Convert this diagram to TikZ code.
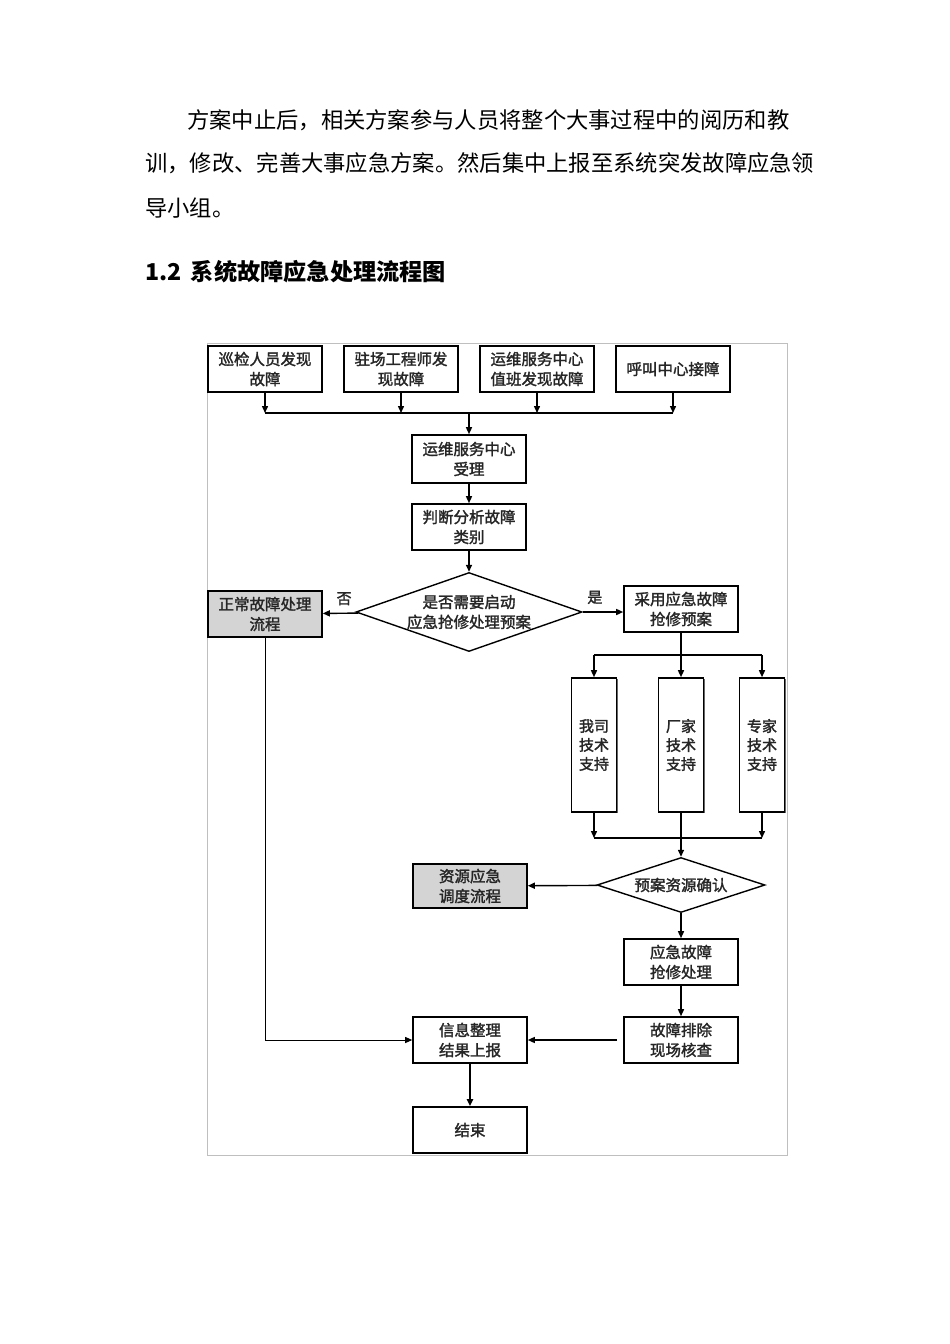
\documentclass[tikz,border=0pt]{standalone}
\usepackage{fontspec}
\setmainfont{Noto Sans CJK SC}
\newfontfamily\boxfont[FakeBold=1.8]{Noto Sans CJK SC}
\usetikzlibrary{arrows.meta,shapes.geometric,shadows}

\begin{document}
\begin{tikzpicture}[x=1pt,y=-1pt,
    box/.style={draw,line width=1.6pt,fill=white,minimum width=114pt,minimum height=46pt,
      align=center,inner sep=1pt,text=black!85,
      font=\boxfont\fontsize{15.5}{20}\selectfont,
      drop shadow={shadow xshift=1.2pt,shadow yshift=-1.2pt,fill=black!60,opacity=1}},
    graybox/.style={box,fill=black!17},
    tallbox/.style={box,minimum width=45pt,minimum height=134pt,font=\boxfont\fontsize{15}{19}\selectfont},
    decide/.style={draw,diamond,line width=1.4pt,fill=white,inner sep=0pt,align=center,
      text=black!85,font=\boxfont\fontsize{15.5}{20}\selectfont},
    flow/.style={line width=1.4pt,-{Triangle[length=7pt,width=6pt]}},
    link/.style={line width=1.4pt},
    tag/.style={font=\boxfont\fontsize{15}{18}\selectfont,text=black!85}]
  \useasboundingbox (0,0) rectangle (950,1344);
  % text above the chart
  \node[anchor=west,inner sep=0pt,font=\fontsize{22.3}{26}\selectfont] (para1) at (187,120)
    {方案中止后，相关方案参与人员将整个大事过程中的阅历和教};
  \node[anchor=west,inner sep=0pt,font=\fontsize{22.3}{26}\selectfont] (para2) at (145,163)
    {训，修改、完善大事应急方案。然后集中上报至系统突发故障应急领};
  \node[anchor=west,inner sep=0pt,font=\fontsize{22.3}{26}\selectfont] (para3) at (145,208)
    {导小组。};
  \node[anchor=west,inner sep=0pt,font=\bfseries\fontsize{23.2}{28}\selectfont] (title) at (145,272)
    {1.2\hspace{4pt} 系统故障应急处理流程图};
  % frame of the chart
  \draw[black!25,line width=0.8pt] (207,343) rectangle (787,1155);
  % nodes
  \node[box] (xunjian) at (265,369) {巡检人员发现\\故障};
  \node[box] (zhuchang) at (401,369) {驻场工程师发\\现故障};
  \node[box] (zhiban) at (537,369) {运维服务中心\\值班发现故障};
  \node[box] (hujiao) at (673,369) {呼叫中心接障};
  \node[box,minimum height=48pt] (shouli) at (469,459) {运维服务中心\\受理};
  \node[box] (panduan) at (469,527) {判断分析故障\\类别};
  \node[decide,aspect=2.86,minimum width=226pt,minimum height=79pt] (qidong) at (469,612)
    {是否需要启动\\应急抢修处理预案};
  \node[graybox] (zhengchang) at (265,614) {正常故障处理\\流程};
  \node[box] (caiyong) at (681,609) {采用应急故障\\抢修预案};
  \node[tallbox] (wosi) at (594,745) {我司\\技术\\支持};
  \node[tallbox] (changjia) at (681,745) {厂家\\技术\\支持};
  \node[tallbox] (zhuanjia) at (762,745) {专家\\技术\\支持};
  \node[decide,aspect=3.05,minimum width=168pt,minimum height=55pt] (queren) at (681,885) {预案资源确认};
  \node[graybox,minimum height=44pt] (diaodu) at (470,886) {资源应急\\调度流程};
  \node[box] (qiangxiu) at (681,962) {应急故障\\抢修处理};
  \node[box] (paichu) at (681,1040) {故障排除\\现场核查};
  \node[box] (shangbao) at (470,1040) {信息整理\\结果上报};
  \node[box] (jieshu) at (470,1130) {结束};
  % connectors
  \coordinate (hui) at (469,413);
  \foreach \n in {xunjian,zhuchang,zhiban,hujiao}
    \draw[flow] (\n.south) -- (\n.south |- hui);
  \draw[link] (xunjian.south |- hui) -- (hujiao.south |- hui);
  \draw[flow] (hui) -- (shouli);
  \draw[flow] (shouli) -- (panduan);
  \draw[flow] (panduan) -- (qidong);
  \draw[flow] (qidong) -- node[tag,pos=0.4,above=4pt] {否} (zhengchang);
  \draw[flow] (qidong.east) -- node[tag,pos=0.3,above=4pt] {是} (qidong.east -| caiyong.west);
  \coordinate (fen) at (681,655);
  \draw[link] (caiyong) -- (fen);
  \draw[link] (wosi.north |- fen) -- (zhuanjia.north |- fen);
  \foreach \n in {wosi,changjia,zhuanjia}
    \draw[flow] (\n.north |- fen) -- (\n);
  \coordinate (he) at (681,838);
  \foreach \n in {wosi,zhuanjia}
    \draw[flow] (\n) -- (\n.south |- he);
  \draw[link] (wosi.south |- he) -- (zhuanjia.south |- he);
  \draw[flow] (changjia) -- (queren);
  \draw[flow] (queren) -- (diaodu);
  \draw[flow] (queren) -- (qiangxiu);
  \draw[flow] (qiangxiu) -- (paichu);
  \draw[flow,shorten <=6pt] (paichu) -- (shangbao);
  \draw[flow,line width=1pt] (zhengchang) |- (shangbao);
  \draw[flow,line width=2.2pt] (shangbao) -- (jieshu);
\end{tikzpicture}
\end{document}
